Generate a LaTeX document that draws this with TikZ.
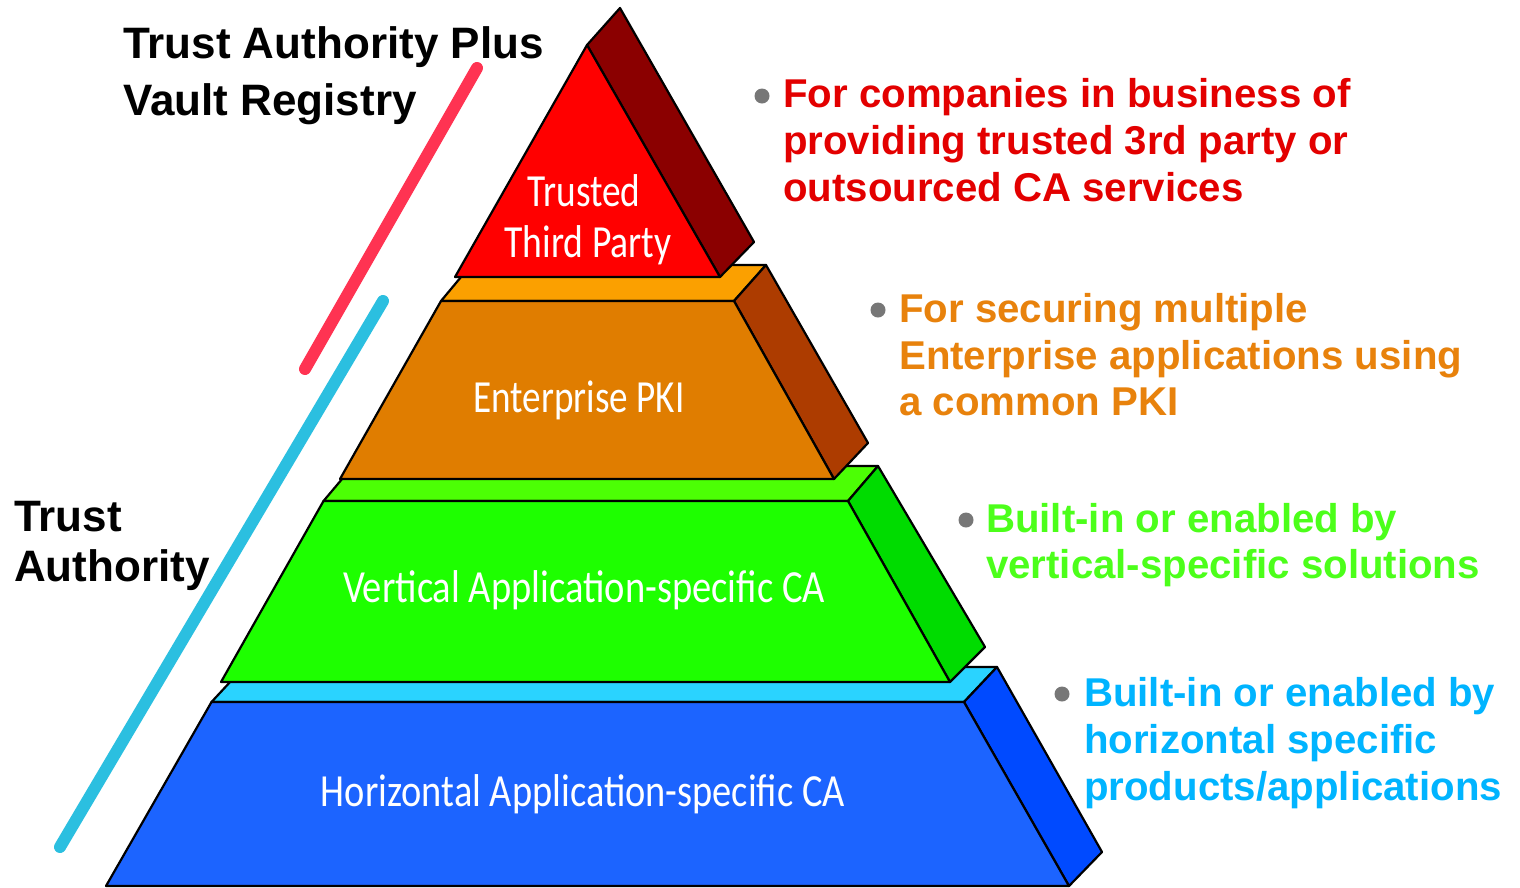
\documentclass[tikz,border=0pt]{standalone}
\usepackage{fontspec}
\setmainfont{Liberation Sans}
\newfontfamily\labfont{Carlito}
\usepackage{graphicx}
\definecolor{redfront}{HTML}{FF0000}
\definecolor{redside}{HTML}{8B0000}
\definecolor{ortop}{HTML}{FBA000}
\definecolor{orfront}{HTML}{E07D00}
\definecolor{orside}{HTML}{AD3C00}
\definecolor{grtop}{HTML}{4CFF05}
\definecolor{grfront}{HTML}{1EFF00}
\definecolor{grside}{HTML}{00DC00}
\definecolor{bltop}{HTML}{2AD3FF}
\definecolor{blfront}{HTML}{1C64FF}
\definecolor{blside}{HTML}{004AFF}
\definecolor{pinkline}{HTML}{FF3352}
\definecolor{cyanline}{HTML}{2BBFE0}
\definecolor{txred}{HTML}{E30000}
\definecolor{txorange}{HTML}{E8820C}
\definecolor{txgreen}{HTML}{4CFF1A}
\definecolor{txblue}{HTML}{00B4FF}
\definecolor{bul}{HTML}{777777}
\begin{document}
\begin{tikzpicture}[x=1pt,y=-1pt,
  face/.style={draw=black, line width=2.2pt, line join=round},
  bar/.style={line width=12pt, line cap=round},
  side/.style={anchor=base west, inner sep=0pt, font=\fontsize{40.2}{47}\selectfont\bfseries},
  ttl/.style={anchor=base west, inner sep=0pt, font=\fontsize{44}{50}\selectfont\bfseries, text=black},
  lab/.style={anchor=base, inner sep=0pt, text=white, font=\fontsize{46}{50}\selectfont\labfont},
  dot/.style={circle, fill=bul, inner sep=0pt, minimum size=15pt}]
\useasboundingbox[fill=white] (0,0) rectangle (1520,887);

% decorative bars
\coordinate (p1) at (477,68); \coordinate (p2) at (305,369);
\coordinate (c1) at (383,301); \coordinate (c2) at (60,847);
\draw[bar, pinkline] (p1) -- (p2);
\draw[bar, cyanline] (c1) -- (c2);

% blue layer
\fill[face, fill=bltop] (211.5,702) -- (244,667) -- (997,667) -- (964,702) -- cycle;
\fill[face, fill=blside] (964,702) -- (997,667) -- (1102,852) -- (1069,886) -- cycle;
\fill[face, fill=blfront] (211.5,702) -- (964,702) -- (1069,886) -- (106,886) -- cycle;

% green layer
\fill[face, fill=grtop] (323.5,501) -- (353,466) -- (878,466) -- (848,501) -- cycle;
\fill[face, fill=grside] (848,501) -- (878,466) -- (985,647) -- (950,682) -- cycle;
\fill[face, fill=grfront] (323.5,501) -- (848,501) -- (950,682) -- (221,682) -- cycle;

% orange layer
\fill[face, fill=ortop] (441,301) -- (471,265) -- (766,265) -- (734,301) -- cycle;
\fill[face, fill=orside] (734,301) -- (766,265) -- (868,443) -- (834,479) -- cycle;
\fill[face, fill=orfront] (441,301) -- (734,301) -- (834,479) -- (340,479) -- cycle;

% red layer
\fill[face, fill=redside] (587,45) -- (620,8) -- (754,242) -- (720,277) -- cycle;
\fill[face, fill=redfront] (587,45) -- (720,277) -- (455,277) -- cycle;

% pyramid labels
\node[lab] (l1) at (584,206) {\resizebox{113pt}{\height}{Trusted}};
\node[lab] (l2) at (588,257) {\resizebox{167pt}{\height}{Third Party}};
\node[lab] (l3) at (579,412) {\resizebox{211pt}{\height}{Enterprise PKI}};
\node[lab] (l4) at (584,602) {\resizebox{482pt}{\height}{Vertical Application-specific CA}};
\node[lab] (l5) at (583,806) {\resizebox{524pt}{\height}{Horizontal Application-specific CA}};

% left titles
\node[ttl] (t1) at (123,58) {Trust Authority Plus};
\node[ttl] (t2) at (123,115) {Vault Registry};
\node[ttl] (t3) at (14,531) {Trust};
\node[ttl] (t4) at (14,581) {Authority};

% right descriptions
\node[dot] (b1) at (762,96) {};
\node[side, text=txred] (r1) at (783,107) {For companies in business of};
\node[side, text=txred] (r2) at (783,154) {providing trusted 3rd party or};
\node[side, text=txred] (r3) at (783,201) {outsourced CA services};

\node[dot] (b2) at (878,310) {};
\node[side, text=txorange] (o1) at (899,322) {For securing multiple};
\node[side, text=txorange] (o2) at (899,369) {Enterprise applications using};
\node[side, text=txorange] (o3) at (899,415) {a common PKI};

\node[dot] (b3) at (966,520) {};
\node[side, text=txgreen] (g1) at (986,532) {Built-in or enabled by};
\node[side, text=txgreen] (g2) at (986,578) {vertical-specific solutions};

\node[dot] (b4) at (1062,694) {};
\node[side, text=txblue] (h1) at (1084,706) {Built-in or enabled by};
\node[side, text=txblue] (h2) at (1084,753) {horizontal specific};
\node[side, text=txblue] (h3) at (1084,800) {products/applications};
\end{tikzpicture}
\end{document}
